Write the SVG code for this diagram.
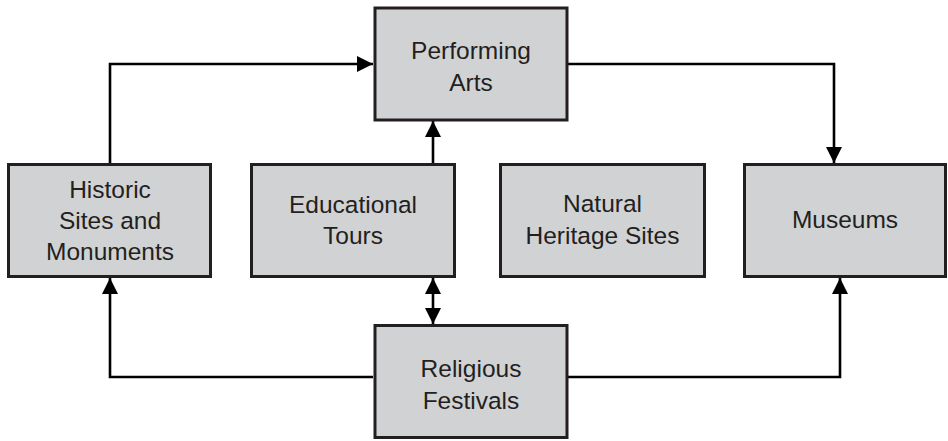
<svg xmlns="http://www.w3.org/2000/svg" width="948" height="441" viewBox="0 0 948 441">
<style>
.box{fill:#d1d2d4;stroke:#231f20;stroke-width:3}
.lbl{font-family:"Liberation Sans",Arial,sans-serif;font-size:24.5px;fill:#231f20;text-anchor:middle}
.con{fill:none;stroke:#000;stroke-width:2.6;stroke-linejoin:miter}
</style>
<defs>
<marker id="ah" markerUnits="userSpaceOnUse" markerWidth="16" markerHeight="16" viewBox="0 0 14 14" refX="14" refY="7" orient="auto-start-reverse">
<path d="M0,0 L14,7 L0,14 Z" fill="#000"/>
</marker>
</defs>
<rect width="948" height="441" fill="#fff"/>
<g id="connectors">
<path class="con" d="M110,163 V64 H373" marker-end="url(#ah)"/>
<path class="con" d="M568,64 H834 V163" marker-end="url(#ah)"/>
<path class="con" d="M433,163 V121" marker-end="url(#ah)"/>
<path class="con" d="M433,278 V324" marker-start="url(#ah)" marker-end="url(#ah)"/>
<path class="con" d="M373,377 H110 V278" marker-end="url(#ah)"/>
<path class="con" d="M568,377 H840 V278" marker-end="url(#ah)"/>
</g>
<g id="performing-arts">
<rect class="box" x="375" y="8" width="192" height="112"/>
<text class="lbl" x="471" y="59">Performing</text>
<text class="lbl" x="471" y="91">Arts</text>
</g>
<g id="historic-sites">
<rect class="box" x="8.5" y="164.5" width="202" height="112"/>
<text class="lbl" x="110" y="197.5">Historic</text>
<text class="lbl" x="110" y="229">Sites and</text>
<text class="lbl" x="110" y="259.5">Monuments</text>
</g>
<g id="educational-tours">
<rect class="box" x="251.5" y="164.5" width="203" height="112"/>
<text class="lbl" x="353" y="212.5">Educational</text>
<text class="lbl" x="353" y="244">Tours</text>
</g>
<g id="natural-heritage">
<rect class="box" x="500.5" y="164.5" width="204" height="112"/>
<text class="lbl" x="602.5" y="212">Natural</text>
<text class="lbl" x="602.5" y="244">Heritage Sites</text>
</g>
<g id="museums">
<rect class="box" x="744.5" y="164.5" width="201" height="112"/>
<text class="lbl" x="845" y="227.5">Museums</text>
</g>
<g id="religious-festivals">
<rect class="box" x="375" y="325.5" width="192" height="112"/>
<text class="lbl" x="471" y="377">Religious</text>
<text class="lbl" x="471" y="409">Festivals</text>
</g>
</svg>
